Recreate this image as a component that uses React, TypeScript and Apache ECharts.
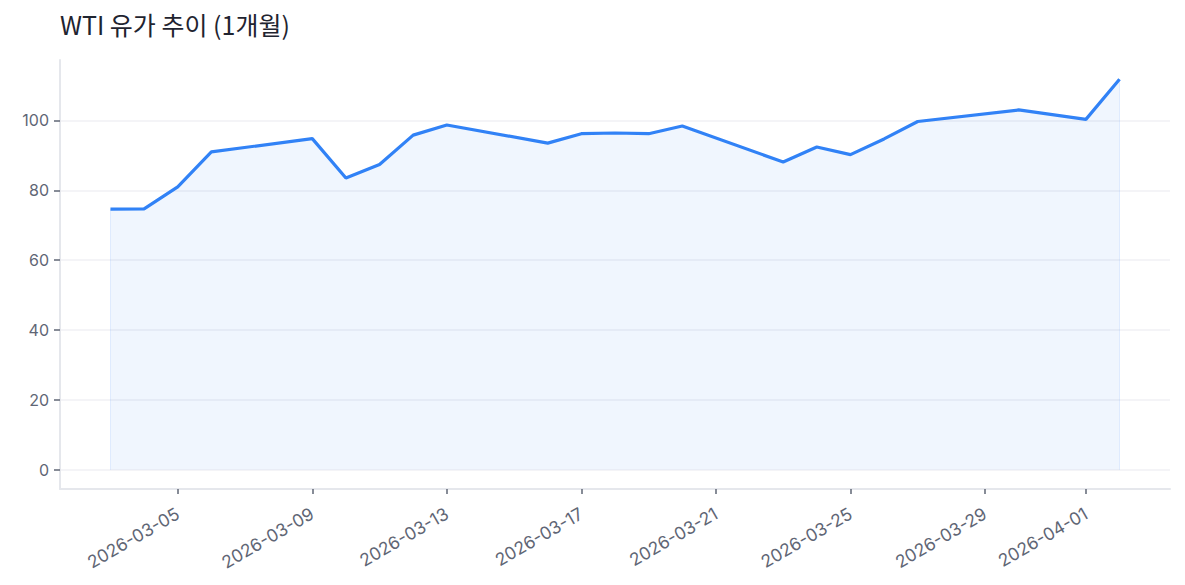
import React, { useEffect, useRef } from "react";
import * as echarts from "echarts";

const TITLE = "WTI 유가 추이 (1개월)";

const dates: string[] = [
  "2026-03-03", "2026-03-04", "2026-03-05", "2026-03-06",
  "2026-03-09", "2026-03-10", "2026-03-11", "2026-03-12", "2026-03-13",
  "2026-03-16", "2026-03-17", "2026-03-18", "2026-03-19", "2026-03-20",
  "2026-03-23", "2026-03-24", "2026-03-25", "2026-03-26", "2026-03-27",
  "2026-03-30", "2026-04-01", "2026-04-02",
];

const prices: number[] = [
  74.6, 74.7, 81.0, 91.0,
  94.8, 83.5, 87.4, 95.8, 98.7,
  93.5, 96.2, 96.4, 96.2, 98.4,
  88.1, 92.4, 90.2, 94.7, 99.7,
  103.0, 100.3, 111.8,
];

const yTicks: number[] = [0, 20, 40, 60, 80, 100];
const yMin = -5.5;
const yMax = 117.3;
const xMin = "2026-03-01 12:00:00";
const xMax = "2026-04-03 12:00:00";

const LINE = "#3182f6";
const LABEL_FONT = "Inter, 'Noto Sans', sans-serif";

export default function App() {
  const ref = useRef<HTMLDivElement>(null);

  useEffect(() => {
    if (!ref.current) return;
    const chart = echarts.init(ref.current, null, { renderer: "svg" });
    const data = dates.map((d, i) => [d, prices[i]]);
    const last = dates.length - 1;
    chart.setOption({
      animation: false,
      backgroundColor: "#ffffff",
      title: {
        text: TITLE,
        left: 55,
        top: 6,
        textStyle: {
          fontFamily: "'Noto Sans CJK KR', sans-serif",
          fontSize: 25,
          fontWeight: "normal",
          color: "#1f2430",
        },
      },
      grid: { left: 60, right: 15, top: 60, bottom: 96, containLabel: false },
      xAxis: {
        type: "time",
        min: xMin,
        max: xMax,
        axisLine: { show: true, onZero: false, lineStyle: { color: "#e5e7ec", width: 2 } },
        axisTick: { show: true, length: 5, lineStyle: { color: "#5f6675", width: 1.5 } },
        splitLine: { show: false },
        axisLabel: {
          formatter: "{yyyy}-{MM}-{dd}",
          rotate: 30,
          margin: 23,
          color: "#5f6675",
          fontSize: 17.5,
          fontFamily: LABEL_FONT,
          hideOverlap: false,
        },
      },
      yAxis: {
        type: "value",
        min: yMin,
        max: yMax,
        axisLine: { show: true, lineStyle: { color: "#e5e7ec", width: 2 } },
        axisTick: {
          show: true,
          length: 6,
          customValues: yTicks,
          lineStyle: { color: "#5f6675", width: 1.5 },
        },
        axisLabel: {
          customValues: yTicks,
          margin: 11,
          color: "#5f6675",
          fontSize: 16,
          fontFamily: LABEL_FONT,
        },
        splitLine: { show: true, lineStyle: { color: "#f0f1f4", width: 1.5 } },
      },
      series: [
        {
          type: "line",
          data,
          symbol: "none",
          lineStyle: { color: LINE, width: 3.2 },
          itemStyle: { color: LINE },
          areaStyle: { color: "rgba(49,130,246,0.1)" },
          markLine: {
            silent: true,
            symbol: "none",
            label: { show: false },
            lineStyle: { color: "rgba(49,130,246,0.12)", width: 1, type: "solid" },
            data: [
              [{ coord: [dates[0], 0] }, { coord: [dates[0], prices[0]] }],
              [{ coord: [dates[last], 0] }, { coord: [dates[last], prices[last]] }],
            ],
          },
        },
      ],
    });
    return () => chart.dispose();
  }, []);

  return (
    <div
      ref={ref}
      style={{ position: "fixed", left: 0, top: 0, width: 1185, height: 585, background: "#fff" }}
    />
  );
}
